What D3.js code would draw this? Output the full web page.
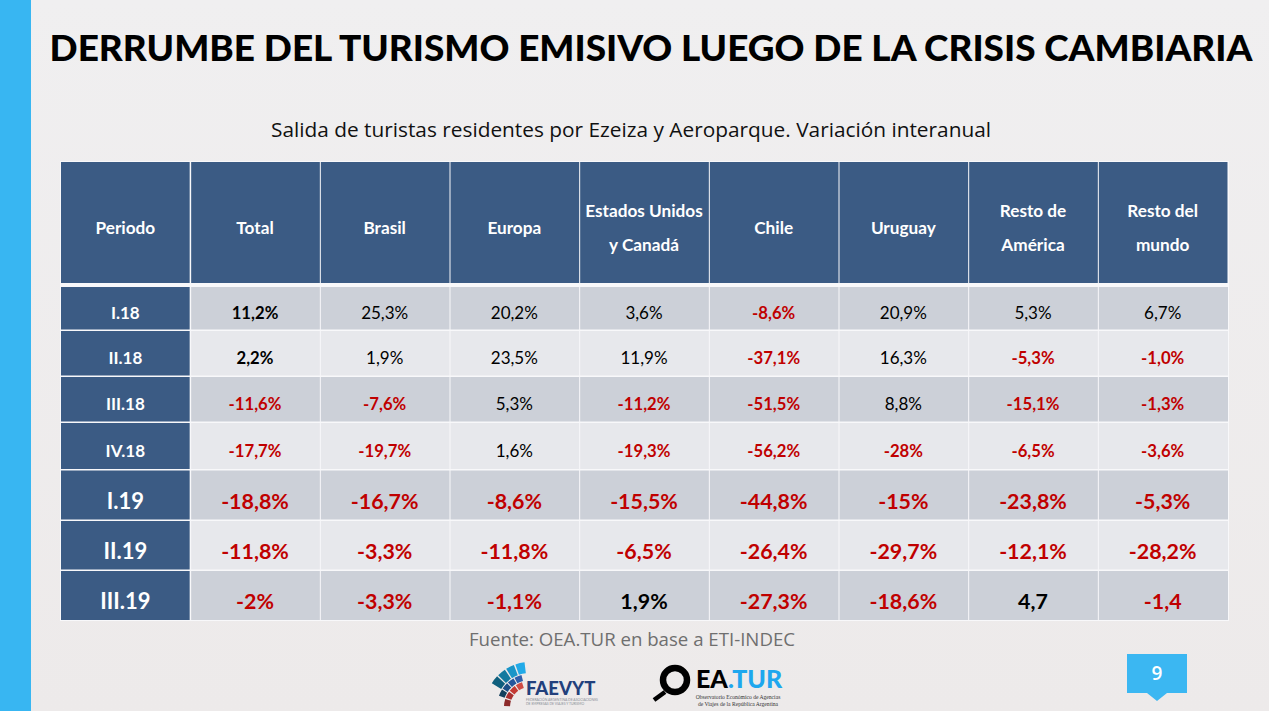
<!DOCTYPE html>
<html><head><meta charset="utf-8">
<script src="https://cdn.jsdelivr.net/npm/d3@7/dist/d3.min.js"></script>
<style>html,body{margin:0;padding:0;background:#eeecec;overflow:hidden}svg{display:block}</style>
</head><body><svg id="c" width="1269" height="711"></svg>
<script>
const title = "DERRUMBE DEL TURISMO EMISIVO LUEGO DE LA CRISIS CAMBIARIA";
const subtitle = "Salida de turistas residentes por Ezeiza y Aeroparque. Variación interanual";
const source = "Fuente: OEA.TUR en base a ETI-INDEC";
const pageNumber = "9";
const headers = [["Periodo"],["Total"],["Brasil"],["Europa"],["Estados Unidos","y Canadá"],["Chile"],["Uruguay"],["Resto de","América"],["Resto del","mundo"]];
const periods = ["I.18","II.18","III.18","IV.18","I.19","II.19","III.19"];
const total = ["11,2%","2,2%","-11,6%","-17,7%","-18,8%","-11,8%","-2%"];
const brasil = ["25,3%","1,9%","-7,6%","-19,7%","-16,7%","-3,3%","-3,3%"];
const europa = ["20,2%","23,5%","5,3%","1,6%","-8,6%","-11,8%","-1,1%"];
const eeuu = ["3,6%","11,9%","-11,2%","-19,3%","-15,5%","-6,5%","1,9%"];
const chile = ["-8,6%","-37,1%","-51,5%","-56,2%","-44,8%","-26,4%","-27,3%"];
const uruguay = ["20,9%","16,3%","8,8%","-28%","-15%","-29,7%","-18,6%"];
const restoAmerica = ["5,3%","-5,3%","-15,1%","-6,5%","-23,8%","-12,1%","4,7"];
const restoMundo = ["6,7%","-1,0%","-1,3%","-3,6%","-5,3%","-28,2%","-1,4"];
const columns = [total,brasil,europa,eeuu,chile,uruguay,restoAmerica,restoMundo];

const rowEdges = [287,331,377,423,470.5,521,571,620];
const svg = d3.select("#c");
const F = "Lato, 'Open Sans', sans-serif";
const bg = svg.append("defs").append("linearGradient").attr("id","bg").attr("x1",0).attr("y1",0).attr("x2",0).attr("y2",1);
bg.append("stop").attr("offset",0).attr("stop-color","#f0eff0");
bg.append("stop").attr("offset",1).attr("stop-color","#edeaea");
svg.append("rect").attr("width",1269).attr("height",711).attr("fill","url(#bg)");
svg.append("rect").attr("width",31).attr("height",711).attr("fill","#38b6f2");

// title: sized to the reference's width by measuring, never stretched past it
const titleText = svg.append("text").text(title).attr("x",651).attr("y",61).attr("text-anchor","middle")
  .attr("font-family",F).attr("font-weight",900).attr("font-size",39).attr("fill","#000");
const tw = titleText.node().getComputedTextLength();
titleText.attr("font-size",39*1203/tw);

svg.append("text").text(subtitle).attr("x",631).attr("y",137).attr("text-anchor","middle")
  .attr("font-family","'Open Sans',sans-serif").attr("font-size",20).attr("fill","#111")
  .attr("textLength",720).attr("lengthAdjust","spacingAndGlyphs");

const x = d3.scaleBand().domain(d3.range(headers.length)).range([61,1228]).paddingInner(0);
const blue="#3b5b84";

// table backing
svg.append("rect").attr("x",60).attr("y",161).attr("width",1169).attr("height",460).attr("fill","#f8f8fa");

// header
const head = svg.append("g").selectAll("g").data(headers).join("g");
head.append("rect").attr("x",(d,i)=>x(i)+(i?0.5:0)).attr("y",162).attr("width",x.bandwidth()-1).attr("height",121).attr("fill",blue);
head.each(function(lines,i){
  const g=d3.select(this), cx=x(i)+x.bandwidth()/2-0.5;
  const ys = lines.length===1?[234]:[217,251];
  lines.forEach((t,j)=>g.append("text").text(t).attr("x",cx).attr("y",ys[j]).attr("text-anchor","middle")
    .attr("font-family",F).attr("font-weight",700).attr("font-size",17.2).attr("fill","#fff"));
});

// rows
periods.forEach((p,r)=>{
  const y0=rowEdges[r], h=rowEdges[r+1]-y0-(r<6?1.5:0);
  const big=r>=4;
  const cy=y0+h/2, dy=big?13.5:10.5;
  svg.append("rect").attr("x",x(0)).attr("y",y0).attr("width",x.bandwidth()-1).attr("height",h).attr("fill",blue);
  svg.append("text").text(p).attr("x",x(0)+x.bandwidth()/2-0.5).attr("y",cy+dy)
    .attr("text-anchor","middle").attr("font-family",F).attr("font-weight",700)
    .attr("font-size",big?22:17).attr("fill","#fff");
  columns.forEach((col,c)=>{
    const cx=x(c+1);
    svg.append("rect").attr("x",cx+0.5).attr("y",y0).attr("width",x.bandwidth()-(c===7?0.5:1)).attr("height",h)
      .attr("fill",r%2===0?"#ccd0d8":"#e7e8ec");
    const v=col[r], neg=v[0]==="-";
    const bold=big||neg||c===0;
    svg.append("text").text(v).attr("x",cx+x.bandwidth()/2-0.5).attr("y",cy+dy)
      .attr("text-anchor","middle").attr("font-family",F).attr("font-weight",bold?700:400)
      .attr("font-size",big?21.4:(bold?16.7:17)).attr("fill",neg?"#c00000":"#000");
  });
});

svg.append("text").text(source).attr("x",632).attr("y",646).attr("text-anchor","middle")
  .attr("font-family","'Open Sans',sans-serif").attr("font-size",18).attr("fill","#6f6f6f")
  .attr("textLength",326).attr("lengthAdjust","spacingAndGlyphs");

// page badge
svg.append("path").attr("d","M1127 654H1187V693H1167L1157 701L1147 693H1127Z").attr("fill","#3bb7f2");
svg.append("text").text(pageNumber).attr("x",1157).attr("y",680).attr("text-anchor","middle")
  .attr("font-family","'Open Sans',sans-serif").attr("font-weight",600).attr("font-size",19).attr("fill","#fff");

// FAEVYT logo: fan of blocks
const arc=d3.arc();
const rad=d=>d*Math.PI/180;
const lg=svg.append("g").attr("transform","translate(530,707)");
const fan=[
 {ri:34,ro:45,a:[[-58,-47,"#0f5f7d"],[-45,-34,"#137a9f"],[-32,-21,"#1a95c8"],[-19,-7,"#22aae8"]]},
 {ri:27,ro:33,a:[[-70,-58,"#123f5c"],[-56,-44,"#1c4f86"],[-42,-30,"#25569d"],[-28,-15,"#2f5eab"]]},
 {ri:20,ro:26,a:[[-88,-72,"#8c2a2a"],[-69,-54,"#a83030"],[-51,-36,"#c43a34"],[-33,-18,"#cf4a44"]]}
];
fan.forEach(f=>f.a.forEach(([s,e,col])=>lg.append("path")
  .attr("d",arc({innerRadius:f.ri,outerRadius:f.ro,startAngle:rad(s),endAngle:rad(e)})).attr("fill",col)));
svg.append("text").text("FAEVYT").attr("x",526).attr("y",695).attr("font-family",F).attr("font-weight",900).attr("font-size",18.5).attr("fill","#22407c");
svg.append("text").text("FEDERACIÓN ARGENTINA DE ASOCIACIONES").attr("x",526).attr("y",701).attr("font-family",F).attr("font-size",3.4).attr("fill","#8a8f98");
svg.append("text").text("DE EMPRESAS DE VIAJES Y TURISMO").attr("x",526).attr("y",705).attr("font-family",F).attr("font-size",3.4).attr("fill","#8a8f98");

// OEA.TUR logo
svg.append("circle").attr("cx",675).attr("cy",680).attr("r",12).attr("fill","none").attr("stroke","#000").attr("stroke-width",6.5);
svg.append("line").attr("x1",665).attr("y1",692).attr("x2",654).attr("y2",700).attr("stroke","#000").attr("stroke-width",4.5);
const logoT=svg.append("text").attr("x",696).attr("y",688).attr("font-family",F).attr("font-weight",900).attr("font-size",25);
logoT.append("tspan").text("EA").attr("fill","#000");
logoT.append("tspan").text(".TUR").attr("fill","#1ea7ee");
svg.append("text").text("Observatorio Económico de Agencias").attr("x",738).attr("y",699).attr("text-anchor","middle").attr("font-family","'Liberation Serif',serif").attr("font-size",5.6).attr("fill","#333");
svg.append("text").text("de Viajes de la República Argentina").attr("x",738).attr("y",706).attr("text-anchor","middle").attr("font-family","'Liberation Serif',serif").attr("font-size",5.6).attr("fill","#333");
</script></body></html>
